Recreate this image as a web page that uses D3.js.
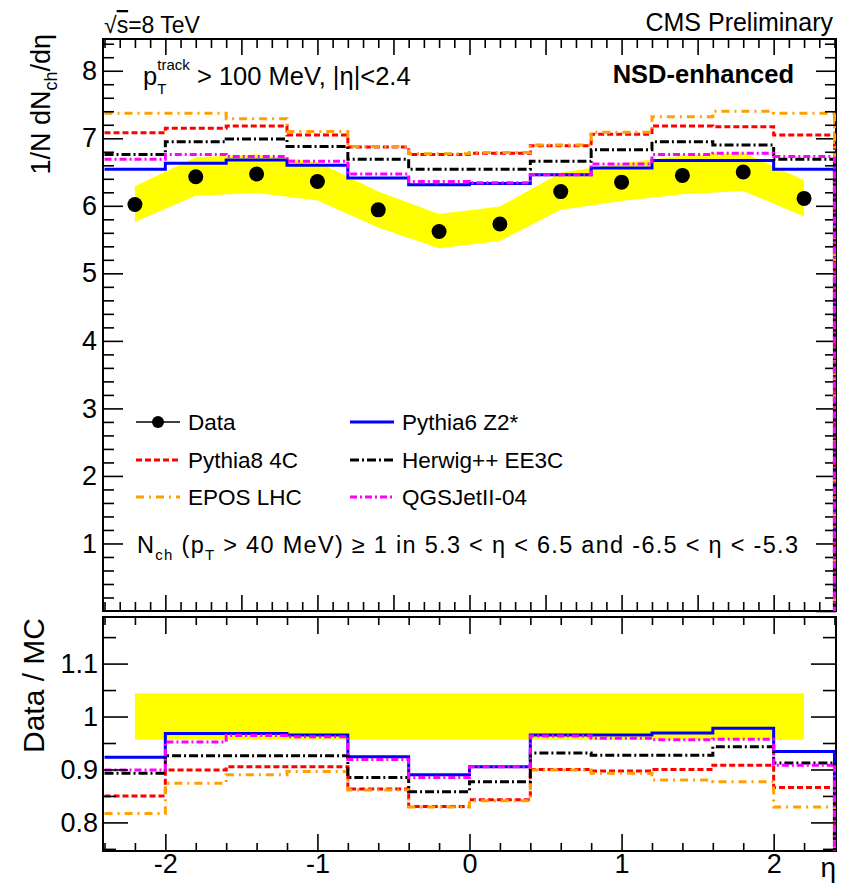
<!DOCTYPE html>
<html>
<head>
<meta charset="utf-8">
<script src="https://cdn.jsdelivr.net/npm/d3@7"></script>
<style>
  body { margin: 0; background: #fff; }
  text { font-family: "Liberation Sans", Arial, Helvetica, sans-serif; fill: #000; }
</style>
</head>
<body>
<div id="chart"></div>
<script>
// eta binning
const etaEdges = [-2.4, -2.0, -1.6, -1.2, -0.8, -0.4, 0.0, 0.4, 0.8, 1.2, 1.6, 2.0, 2.4];
const etaCentres = [-2.2, -1.8, -1.4, -1.0, -0.6, -0.2, 0.2, 0.6, 1.0, 1.4, 1.8, 2.2];

// measured 1/N dNch/deta and its systematic band
const dataValues = [6.02, 6.43, 6.47, 6.36, 5.94, 5.62, 5.73, 6.21, 6.35, 6.45, 6.50, 6.11];
const dataBandHigh = [6.29, 6.72, 6.76, 6.65, 6.21, 5.88, 5.99, 6.49, 6.63, 6.74, 6.79, 6.38];
const dataBandLow = [5.76, 6.15, 6.19, 6.08, 5.68, 5.37, 5.48, 5.94, 6.07, 6.17, 6.22, 5.84];

// MC predictions (top panel)
const pythia6 = [6.54, 6.63, 6.68, 6.60, 6.41, 6.31, 6.33, 6.46, 6.56, 6.67, 6.67, 6.54];
const pythia8 = [7.08, 7.15, 7.18, 7.05, 6.87, 6.76, 6.78, 6.89, 7.06, 7.18, 7.17, 7.05];
const epos = [7.37, 7.37, 7.29, 7.10, 6.88, 6.77, 6.79, 6.90, 7.09, 7.32, 7.40, 7.37];
const herwig = [6.76, 6.95, 6.99, 6.88, 6.69, 6.54, 6.54, 6.66, 6.83, 6.95, 6.90, 6.69];
const qgsjet = [6.69, 6.76, 6.73, 6.66, 6.47, 6.36, 6.34, 6.46, 6.62, 6.76, 6.78, 6.73];

// Data / MC ratios (bottom panel)
const ratioPythia6 = [0.923, 0.968, 0.968, 0.965, 0.924, 0.890, 0.905, 0.965, 0.965, 0.969, 0.978, 0.934];
const ratioPythia8 = [0.850, 0.899, 0.905, 0.905, 0.863, 0.830, 0.843, 0.900, 0.897, 0.900, 0.908, 0.866];
const ratioEpos = [0.817, 0.874, 0.890, 0.896, 0.861, 0.829, 0.841, 0.899, 0.893, 0.880, 0.877, 0.829];
const ratioHerwig = [0.893, 0.926, 0.926, 0.926, 0.885, 0.858, 0.877, 0.931, 0.927, 0.927, 0.943, 0.912];
const ratioQgsjet = [0.899, 0.952, 0.964, 0.962, 0.919, 0.885, 0.905, 0.963, 0.959, 0.956, 0.957, 0.908];
const ratioBandHigh = [1.044, 1.044, 1.044, 1.044, 1.044, 1.044, 1.044, 1.044, 1.044, 1.044, 1.044, 1.044];
const ratioBandLow = [0.956, 0.956, 0.956, 0.956, 0.956, 0.956, 0.956, 0.956, 0.956, 0.956, 0.956, 0.956];

const seriesNames = ["Pythia6 Z2*", "Pythia8 4C", "EPOS LHC", "Herwig++ EE3C", "QGSJetII-04"];
const topValues = [pythia6, pythia8, epos, herwig, qgsjet];
const ratioValues = [ratioPythia6, ratioPythia8, ratioEpos, ratioHerwig, ratioQgsjet];

const styles = [
  { color: "#0000ff", dash: null },
  { color: "#ff0000", dash: "6,3" },
  { color: "#ffa000", dash: "8,5,2,5" },
  { color: "#000000", dash: "9,3,2,3" },
  { color: "#ff00ff", dash: "7,3,2,3" }
];

const W = 849, H = 888;
const left = 103, right = 836;
const top1 = 39, bottom1 = 611;
const top2 = 617, bottom2 = 851;

const svg = d3.select("#chart").append("svg")
  .attr("width", W).attr("height", H)
  .style("background", "#fff");

const x = d3.scaleLinear().domain([-2.41, 2.41]).range([left, right]);
const yTop = d3.scaleLinear().domain([0, 8.47]).range([bottom1, top1]);
const yBot = d3.scaleLinear().domain([0.746, 1.188]).range([bottom2, top2]);

const defs = svg.append("defs");
defs.append("clipPath").attr("id", "clipTop").append("rect")
  .attr("x", left - 2).attr("y", top1).attr("width", right - left + 4).attr("height", bottom1 - top1);
defs.append("clipPath").attr("id", "clipBot").append("rect")
  .attr("x", left - 2).attr("y", top2).attr("width", right - left + 4).attr("height", bottom2 - top2);

// histogram outline, dropping to the floor at the last edge only
function stepPoints(values, floor) {
  const pts = [];
  values.forEach((v, i) => {
    pts.push([etaEdges[i], v]);
    pts.push([etaEdges[i + 1], v]);
  });
  pts.push([etaEdges[etaEdges.length - 1], floor]);
  return pts;
}

function drawPanel(g, yScale, bandLow, bandHigh, series, floor, clipId, bandCurve) {
  const body = g.append("g").attr("clip-path", `url(#${clipId})`);

  const area = d3.area()
    .x((d, i) => x(etaCentres[i]))
    .y0((d, i) => yScale(bandLow[i]))
    .y1((d, i) => yScale(bandHigh[i]))
    .curve(bandCurve);
  body.append("path").datum(bandLow).attr("d", area).attr("fill", "#ffff00");

  const line = d3.line().x(d => x(d[0])).y(d => yScale(d[1]));
  series.forEach((vals, k) => {
    body.append("path")
      .datum(stepPoints(vals, floor))
      .attr("d", line)
      .attr("fill", "none")
      .attr("stroke", styles[k].color)
      .attr("stroke-width", 3)
      .attr("stroke-dasharray", styles[k].dash);
  });
  return body;
}

// ---------- top panel ----------
const gTop = svg.append("g");
const topBody = drawPanel(gTop, yTop, dataBandLow, dataBandHigh, topValues, 0, "clipTop", d3.curveLinear);

topBody.selectAll("circle.data")
  .data(dataValues)
  .enter()
  .append("circle")
  .attr("class", "data")
  .attr("cx", (d, i) => x(etaCentres[i]))
  .attr("cy", d => yTop(d))
  .attr("r", 7.5)
  .attr("fill", "#000");

// ---------- bottom panel ----------
const gBot = svg.append("g");
drawPanel(gBot, yBot, ratioBandLow, ratioBandHigh, ratioValues, yBot.domain()[0], "clipBot", d3.curveStepAfter);

// ---------- axes ----------
function styleAxis(sel, size) {
  sel.select(".domain").remove();
  sel.selectAll("line").attr("stroke", "#000").attr("stroke-width", 1.6);
  sel.selectAll("text")
    .attr("font-size", size)
    .attr("font-family", "Liberation Sans, Arial, sans-serif")
    .attr("fill", "#000");
}

function addAxis(axis, tx, ty, size) {
  const g = svg.append("g").attr("transform", `translate(${tx},${ty})`).call(axis);
  styleAxis(g, size || 27);
  return g;
}

// top panel x ticks: every 0.1, long at 0.5 steps
const topXAll = d3.range(-24, 25).map(i => i / 10);
const topXMajor = topXAll.filter((d, i) => (i - 24) % 5 === 0);
const topXMinor = topXAll.filter((d, i) => (i - 24) % 5 !== 0);
[[d3.axisBottom, bottom1], [d3.axisTop, top1]].forEach(([ax, yy]) => {
  addAxis(ax(x).tickValues(topXMajor).tickSize(-16).tickFormat(""), 0, yy);
  addAxis(ax(x).tickValues(topXMinor).tickSize(-9).tickFormat(""), 0, yy);
});

// top panel y ticks
const topYMajor = d3.range(0, 9, 1);
const topYMinor = d3.range(0, 43).map(i => i / 5).filter(d => d % 1 !== 0);
addAxis(d3.axisLeft(yTop).tickValues(topYMajor.filter(d => d > 0)).tickSize(-20).tickPadding(6).tickFormat(d3.format("d")), left, 0);
addAxis(d3.axisLeft(yTop).tickValues(topYMinor).tickSize(-11).tickFormat(""), left, 0);
addAxis(d3.axisRight(yTop).tickValues(topYMajor).tickSize(-20).tickFormat(""), right, 0);
addAxis(d3.axisRight(yTop).tickValues(topYMinor).tickSize(-11).tickFormat(""), right, 0);

// bottom panel x ticks: every 0.2, long at integers
const botXAll = d3.range(-12, 13).map(i => i / 5);
const botXMajor = [-2, -1, 0, 1, 2];
const botXMinor = botXAll.filter(d => Math.abs(d - Math.round(d)) > 1e-6);
addAxis(d3.axisBottom(x).tickValues(botXMajor).tickSize(-17).tickPadding(3).tickFormat(d => String(d)), 0, bottom2, 27);
addAxis(d3.axisBottom(x).tickValues(botXMinor).tickSize(-8).tickFormat(""), 0, bottom2);
addAxis(d3.axisTop(x).tickValues(botXMajor).tickSize(-17).tickFormat(""), 0, top2);
addAxis(d3.axisTop(x).tickValues(botXMinor).tickSize(-8).tickFormat(""), 0, top2);

// bottom panel y ticks
const botYMajor = [0.8, 0.9, 1.0, 1.1];
const botYMinor = [0.75, 0.85, 0.95, 1.05, 1.15];
addAxis(d3.axisLeft(yBot).tickValues(botYMajor).tickSize(-25).tickPadding(5).tickFormat(d => String(+d.toFixed(1))), left, 0);
addAxis(d3.axisLeft(yBot).tickValues(botYMinor).tickSize(-13).tickFormat(""), left, 0);
addAxis(d3.axisRight(yBot).tickValues(botYMajor).tickSize(-25).tickFormat(""), right, 0);
addAxis(d3.axisRight(yBot).tickValues(botYMinor).tickSize(-13).tickFormat(""), right, 0);

// frames
[[top1, bottom1], [top2, bottom2]].forEach(([t, b]) => {
  svg.append("rect")
    .attr("x", left).attr("y", t)
    .attr("width", right - left).attr("height", b - t)
    .attr("fill", "none").attr("stroke", "#000").attr("stroke-width", 2);
});

// right-edge drop of the histograms drawn over the frame
[[yTop, topValues, 0], [yBot, ratioValues, yBot.domain()[0]]].forEach(([ys, ser, floor]) => {
  ser.forEach((vals, k) => {
    svg.append("line")
      .attr("x1", x(2.4)).attr("x2", x(2.4))
      .attr("y1", ys(vals[vals.length - 1])).attr("y2", ys(floor))
      .attr("stroke", styles[k].color).attr("stroke-width", 3)
      .attr("stroke-dasharray", styles[k].dash);
  });
});

// ---------- texts ----------
function richText(parent, xPos, yPos, parts, opts) {
  const t = parent.append("text")
    .attr("x", xPos).attr("y", yPos)
    .attr("font-size", opts.size)
    .attr("text-anchor", opts.anchor || "start");
  if (opts.weight) t.attr("font-weight", opts.weight);
  if (opts.rotate) t.attr("transform", `rotate(-90,${xPos},${yPos})`);
  if (opts.length) t.attr("textLength", opts.length).attr("lengthAdjust", "spacing");
  let shift = 0;
  parts.forEach(p => {
    const s = t.append("tspan").text(p.t);
    const target = p.dy || 0;
    s.attr("dy", target - shift);
    shift = target;
    if (p.size) s.attr("font-size", p.size);
    if (p.dx) s.attr("dx", p.dx);
    if (p.overline) s.style("text-decoration", "overline");
  });
  return t;
}

richText(svg, 104, 33, [{ t: "√" }, { t: "s", overline: true }, { t: "=8 TeV" }], { size: 23 });
svg.append("text").attr("x", 833).attr("y", 31).attr("text-anchor", "end")
  .attr("font-size", 25).text("CMS Preliminary");

richText(svg, 143, 85, [
  { t: "p" },
  { t: "T", dy: 9, size: 15 },
  { t: "track", dy: -15, size: 15, dx: -9 },
  { t: " > 100 MeV, |η|<2.4", dy: 0 }
], { size: 25.5 });

svg.append("text").attr("x", 794).attr("y", 83).attr("text-anchor", "end")
  .attr("font-size", 25.5).attr("font-weight", "bold").text("NSD-enhanced");

// axis titles
richText(svg, 50, 34, [{ t: "1/N dN" }, { t: "ch", dy: 7, size: 18 }, { t: "/dη", dy: 0 }],
  { size: 27, anchor: "end", rotate: true });
richText(svg, 44, 618, [{ t: "Data / MC" }], { size: 30, anchor: "end", rotate: true });
svg.append("text").attr("x", 836).attr("y", 877).attr("text-anchor", "end")
  .attr("font-size", 28).text("η");

// selection text
richText(svg, 137, 553, [
  { t: "N" },
  { t: "ch", dy: 7, size: 15 },
  { t: " (p", dy: 0 },
  { t: "T", dy: 7, size: 15 },
  { t: " > 40 MeV) ≥ 1 in 5.3 < η < 6.5 and -6.5 < η < -5.3", dy: 0 }
], { size: 23.5, length: 661 });

// ---------- legend ----------
const legendRows = [422, 460, 497];
const legendCols = [{ x0: 136, x1: 180, tx: 188 }, { x0: 350, x1: 394, tx: 402 }];
const legendEntries = [
  { name: "Data", col: 0, row: 0, k: -1 },
  { name: seriesNames[0], col: 1, row: 0, k: 0 },
  { name: seriesNames[1], col: 0, row: 1, k: 1 },
  { name: seriesNames[3], col: 1, row: 1, k: 3 },
  { name: seriesNames[2], col: 0, row: 2, k: 2 },
  { name: seriesNames[4], col: 1, row: 2, k: 4 }
];
const legend = svg.append("g");
legendEntries.forEach(e => {
  const c = legendCols[e.col], yy = legendRows[e.row];
  if (e.k < 0) {
    legend.append("line").attr("x1", c.x0).attr("x2", c.x1).attr("y1", yy).attr("y2", yy)
      .attr("stroke", "#000").attr("stroke-width", 1.6);
    legend.append("circle").attr("cx", (c.x0 + c.x1) / 2).attr("cy", yy).attr("r", 6).attr("fill", "#000");
  } else {
    legend.append("line").attr("x1", c.x0).attr("x2", c.x1).attr("y1", yy).attr("y2", yy)
      .attr("stroke", styles[e.k].color).attr("stroke-width", 3)
      .attr("stroke-dasharray", styles[e.k].dash);
  }
  legend.append("text").attr("x", c.tx).attr("y", yy + 8).attr("font-size", 22.5).text(e.name);
});
</script>
</body>
</html>
